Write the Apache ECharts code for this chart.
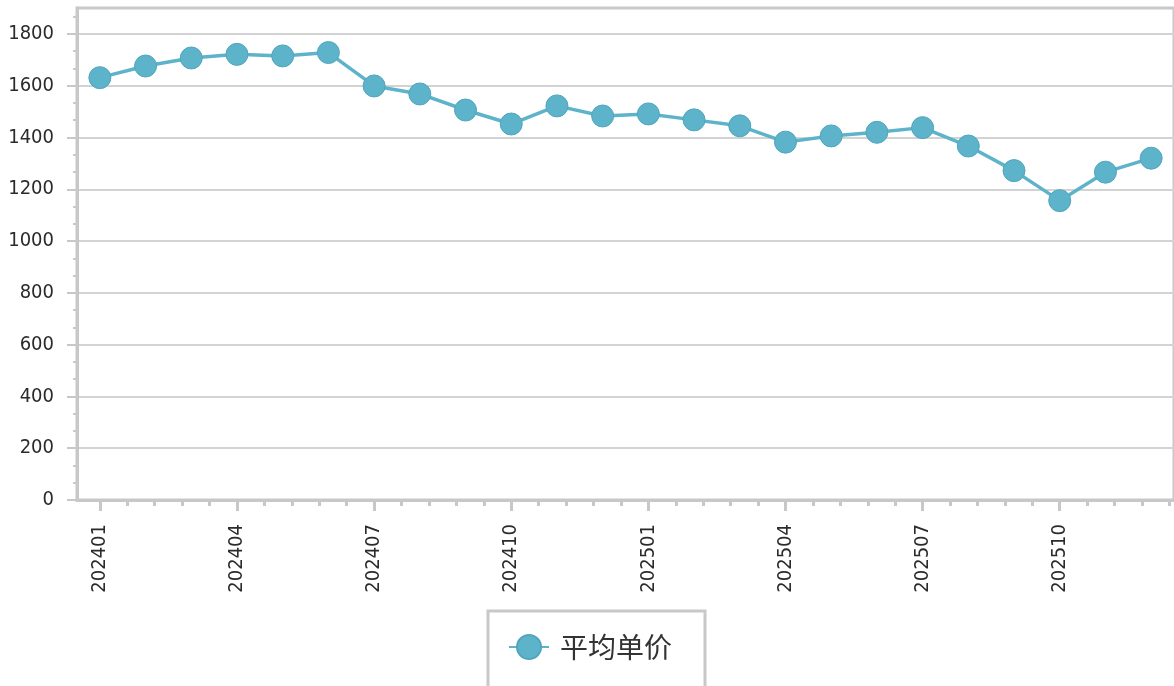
<!DOCTYPE html>
<html><head><meta charset="utf-8">
<script src="https://cdn.jsdelivr.net/npm/echarts@6/dist/echarts.min.js"></script>
<style>html,body{margin:0;padding:0;background:#fff}#c{width:1174px;height:686px}</style>
</head><body><div id="c"></div>
<script>
const categories = ['202401','202402','202403','202404','202405','202406','202407','202408','202409','202410','202411','202412',
  '202501','202502','202503','202504','202505','202506','202507','202508','202509','202510','202511','202512'];
const avgPrice = [1631,1676,1707,1721,1715,1728,1599,1568,1506,1452,1522,1483,
  1491,1468,1445,1382,1406,1420,1438,1367,1272,1156,1266,1320];
const yTickValues = [0,200,400,600,800,1000,1200,1400,1600,1800];
const seriesName = '平均单价';

const yMinor = [];
for (let k = 0; k <= 28; k++) yMinor.push(Math.round(k * 200 / 3 * 1e6) / 1e6);
const xMinor = [];
for (let k = 0; k < 40; k++) xMinor.push(Math.round(k * 0.6 * 1e6) / 1e6);

const FONT = "'DejaVu Sans Condensed', 'DejaVu Sans', sans-serif";
const AX = '#c8c8c8';
const COLOR = '#5db3ca';

const chart = echarts.init(document.getElementById('c'), null, {renderer: 'canvas'});
chart.setOption({
  animation: false,
  backgroundColor: '#fff',
  grid: {left: 77, right: -2, top: 8, bottom: 186, show: true, borderColor: AX, borderWidth: 3, containLabel: false},
  xAxis: [{
    type: 'category', data: categories, boundaryGap: true,
    axisLine: {show: true, onZero: false, lineStyle: {color: AX, width: 3}},
    axisTick: {show: true, alignWithLabel: true, interval: 2, length: 11, lineStyle: {color: AX, width: 3}},
    axisLabel: {interval: 2, rotate: 90, margin: 24, color: '#2b2b2b', fontSize: 20, fontFamily: FONT},
    splitLine: {show: false}
  }, {
    type: 'value', position: 'bottom', min: -0.5, max: 23.5,
    axisLine: {show: false, onZero: false},
    axisTick: {show: true, customValues: xMinor, length: 6, lineStyle: {color: AX, width: 3}},
    axisLabel: {show: false},
    splitLine: {show: false}
  }],
  yAxis: [{
    type: 'value', min: 0, max: 1900,
    axisLine: {show: true, onZero: false, lineStyle: {color: AX, width: 3}},
    axisTick: {show: true, customValues: yTickValues, length: 10, lineStyle: {color: AX, width: 2}},
    axisLabel: {customValues: yTickValues, formatter: function (v) { return String(v); }, margin: 23, color: '#2b2b2b', fontSize: 20, fontFamily: FONT},
    splitLine: {show: true, lineStyle: {color: '#d3d3d3', width: 2}}
  }, {
    type: 'value', position: 'left', min: 0, max: 1900,
    axisLine: {show: false, onZero: false},
    axisTick: {show: true, customValues: yMinor, length: 4, lineStyle: {color: AX, width: 2}},
    axisLabel: {show: false},
    splitLine: {show: false}
  }],
  legend: {
    left: 488, top: 611,
    padding: [22, 33, 30, 20],
    borderColor: AX, borderWidth: 3,
    itemWidth: 40, itemHeight: 30,
    textStyle: {fontSize: 28, color: '#333', fontFamily: "'Noto Sans CJK SC', sans-serif", padding: [0, 0, 0, 6]},
    data: [seriesName]
  },
  series: [{
    name: seriesName, type: 'line', data: avgPrice,
    xAxisIndex: 0, yAxisIndex: 0,
    symbol: 'circle', symbolSize: 22,
    itemStyle: {color: COLOR, borderColor: '#50a6be', borderWidth: 1},
    lineStyle: {color: COLOR, width: 3.5}
  }]
});
</script></body></html>
